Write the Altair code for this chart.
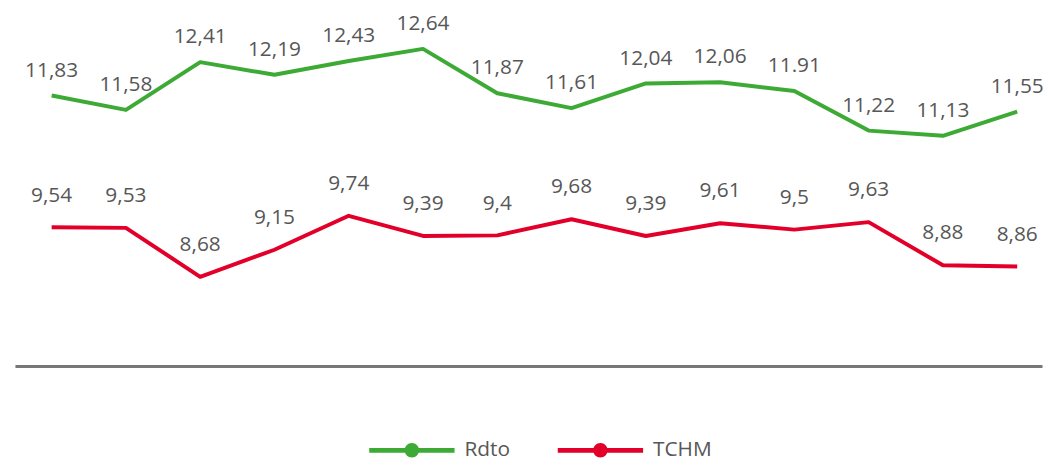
import altair as alt
import pandas as pd

periods = [str(i) for i in range(1, 15)]
series = ["Rdto", "TCHM"]
colors = ["#3DAA35", "#E2002A"]

rdto = [11.83, 11.58, 12.41, 12.19, 12.43, 12.64, 11.87, 11.61, 12.04, 12.06, 11.91, 11.22, 11.13, 11.55]
rdto_labels = ["11,83", "11,58", "12,41", "12,19", "12,43", "12,64", "11,87",
               "11,61", "12,04", "12,06", "11.91", "11,22", "11,13", "11,55"]
tchm = [9.54, 9.53, 8.68, 9.15, 9.74, 9.39, 9.4, 9.68, 9.39, 9.61, 9.5, 9.63, 8.88, 8.86]
tchm_labels = ["9,54", "9,53", "8,68", "9,15", "9,74", "9,39", "9,4",
               "9,68", "9,39", "9,61", "9,5", "9,63", "8,88", "8,86"]

rows = []
for i, p in enumerate(periods):
    rows.append({"period": p, "idx": i, "serie": series[0], "value": rdto[i], "label": rdto_labels[i]})
    rows.append({"period": p, "idx": i, "serie": series[1], "value": tchm[i], "label": tchm_labels[i]})
df = pd.DataFrame(rows)

FONT = "Open Sans"
TEXT_COLOR = "#575757"

legend_path = ("M-1,-0.055L1,-0.055L1,0.055L-1,0.055Z "
               "M-0.17,0A0.17,0.17,0,1,1,0.17,0A0.17,0.17,0,1,1,-0.17,0Z")

x = alt.X("idx:Q",
          scale=alt.Scale(domain=[-0.494, 13.334], nice=False, zero=False),
          axis=alt.Axis(title=None, labels=False, ticks=False, grid=False,
                        domainColor="#777777", domainWidth=3))
y = alt.Y("value:Q",
          scale=alt.Scale(domain=[7.13, 13.32], nice=False, zero=False),
          axis=None)
color = alt.Color("serie:N",
                  scale=alt.Scale(domain=series, range=colors),
                  legend=alt.Legend(
                      title=None, orient="none", direction="horizontal",
                      legendX=357, legendY=401,
                      symbolType=legend_path, symbolSize=7396,
                      symbolStrokeWidth=0,
                      labelFont=FONT, labelFontSize=21, labelColor=TEXT_COLOR,
                      labelOffset=10, columnPadding=48))

base = alt.Chart(df)

dots = base.mark_circle(size=0, opacity=1).encode(x=x, y=y, color=color)
lines = base.mark_line(strokeWidth=4, strokeJoin="round").encode(x=x, y=y, color=color, detail="serie:N")

text_g = base.transform_filter(alt.datum.serie == series[0]).mark_text(
    dy=-25, font=FONT, fontSize=21, color=TEXT_COLOR).encode(x=x, y=y, text="label:N")
text_r = base.transform_filter(alt.datum.serie == series[1]).mark_text(
    dy=-32, font=FONT, fontSize=21, color=TEXT_COLOR).encode(x=x, y=y, text="label:N")

chart = alt.layer(dots, lines, text_g, text_r).properties(
    width=1035, height=359,
    autosize=alt.AutoSizeParams(type="none"),
    padding={"left": 7, "top": 0, "right": 1, "bottom": 101},
).configure_view(stroke=None)

chart.save("out.html", embed_options={"renderer": "svg", "actions": False})
